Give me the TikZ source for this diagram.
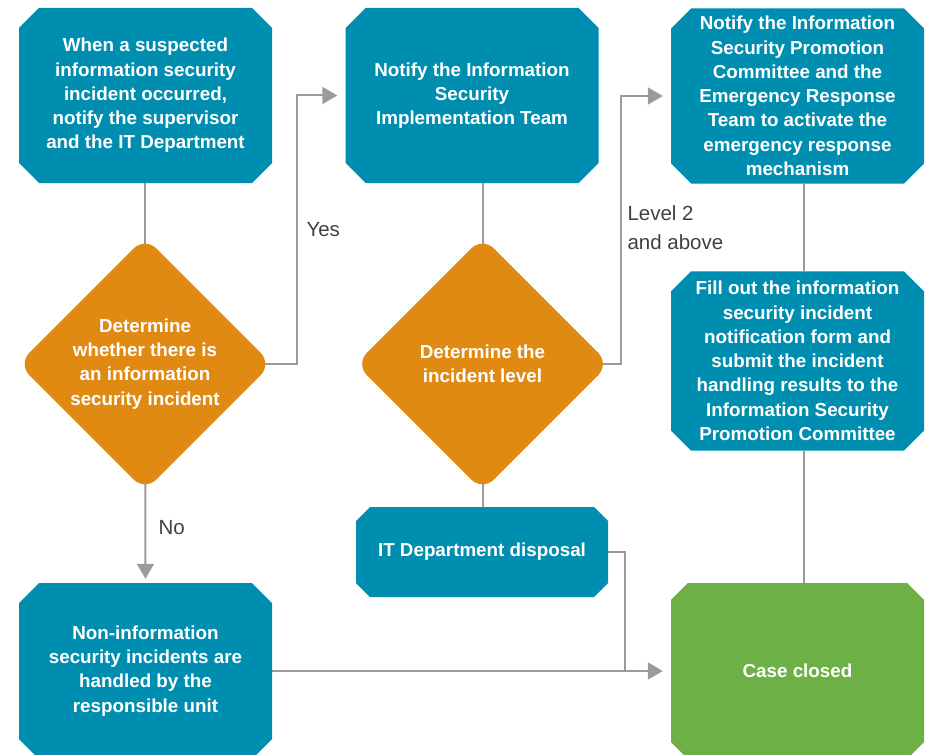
\documentclass[tikz,border=0pt]{standalone}
\usepackage{fontspec}
\setmainfont{Liberation Sans}
\usetikzlibrary{shapes.misc,shapes.geometric,arrows.meta,backgrounds}
\definecolor{boxteal}{RGB}{0,142,176}
\definecolor{decorange}{RGB}{224,138,20}
\definecolor{closegreen}{RGB}{108,176,70}
\definecolor{linegray}{RGB}{155,155,155}
\definecolor{labelgray}{RGB}{64,64,64}

\begin{document}
\begin{tikzpicture}[x=1pt, y=-1pt,
    box/.style={chamfered rectangle, chamfered rectangle xsep=10pt,
      chamfered rectangle ysep=10pt, fill=boxteal, text=white, align=center,
      font=\bfseries\fontsize{18.8}{24.25}\selectfont, inner sep=0pt,
      minimum width=253pt, minimum height=175pt},
    decide/.style={diamond, aspect=1, fill=decorange, rounded corners=16pt,
      text=white, align=center, font=\bfseries\fontsize{18.8}{24.25}\selectfont,
      inner sep=0pt, minimum width=254pt, minimum height=254pt},
    line/.style={draw=linegray, line width=2pt},
    arr/.style={line, -{Triangle[length=15pt,width=17pt]}, shorten >=8pt},
    lbl/.style={text=labelgray, align=left, font=\fontsize{20.5}{29}\selectfont}]
    \clip (0,0) rectangle (925,754);
    % top row
    \node[box] (notify) at (145.5,95.5) {When a suspected\\information security\\incident occurred,\\notify the supervisor\\and the IT Department};
    \node[box] (team) at (472,95.5) {Notify the Information\\Security\\Implementation Team};
    \node[box, inner ysep=-3pt] (alert) at (797.5,96) {Notify the Information\\Security Promotion\\Committee and the\\Emergency Response\\Team to activate the\\emergency response\\mechanism};
    % decisions
    \node[decide] (check) at (145,364) {Determine\\whether there is\\an information\\security incident};
    \node[decide] (level) at (482.5,364) {Determine the\\incident level};
    \node[box, minimum height=178pt] (form) at (797.5,361) {Fill out the information\\security incident\\notification form and\\submit the incident\\handling results to the\\Information Security\\Promotion Committee};
    % bottom row
    \node[box, minimum width=252pt, minimum height=90pt, chamfered rectangle xsep=7pt, chamfered rectangle ysep=7pt] (itdisp) at (482,552) {IT Department disposal};
    \node[box, minimum height=176pt] (nonis) at (145.5,671) {Non-information\\security incidents are\\handled by the\\responsible unit};
    \node[box, fill=closegreen, minimum height=176pt] (closed) at (797.5,671) {Case closed};
    \coordinate (join) at (625,671);
    % labels
    \node[lbl, anchor=west] (yes) at (303,230) {Yes};
    \node[lbl, anchor=west] (no) at (155,528) {No};
    \node[lbl, anchor=west] (lvl) at (624,228) {Level 2\\and above};
    % connectors
    \begin{scope}[on background layer]
    \draw[line] (notify.south -| check.center) -- (check.center);
    \draw[arr] (check.center) -- (297,364) |- (team.west);
    \draw[line] (level.center |- team.south) -- (level.center);
    \draw[arr] (level.center) -- (621,364) |- (alert.west);
    \draw[line] (level.center) -- (level.center |- itdisp.north);
    \draw[arr, shorten >=4pt] (check.center) -- (nonis.north);
    \draw[line] ([xshift=6.5pt]alert.south) -- ([xshift=6.5pt]form.north);
    \draw[line] ([xshift=6.5pt]form.south) -- ([xshift=6.5pt]closed.north);
    \draw[arr] (nonis.east) -- (closed.west);
    \draw[line] (itdisp.east) -| (join);
    \end{scope}
\end{tikzpicture}
\end{document}
